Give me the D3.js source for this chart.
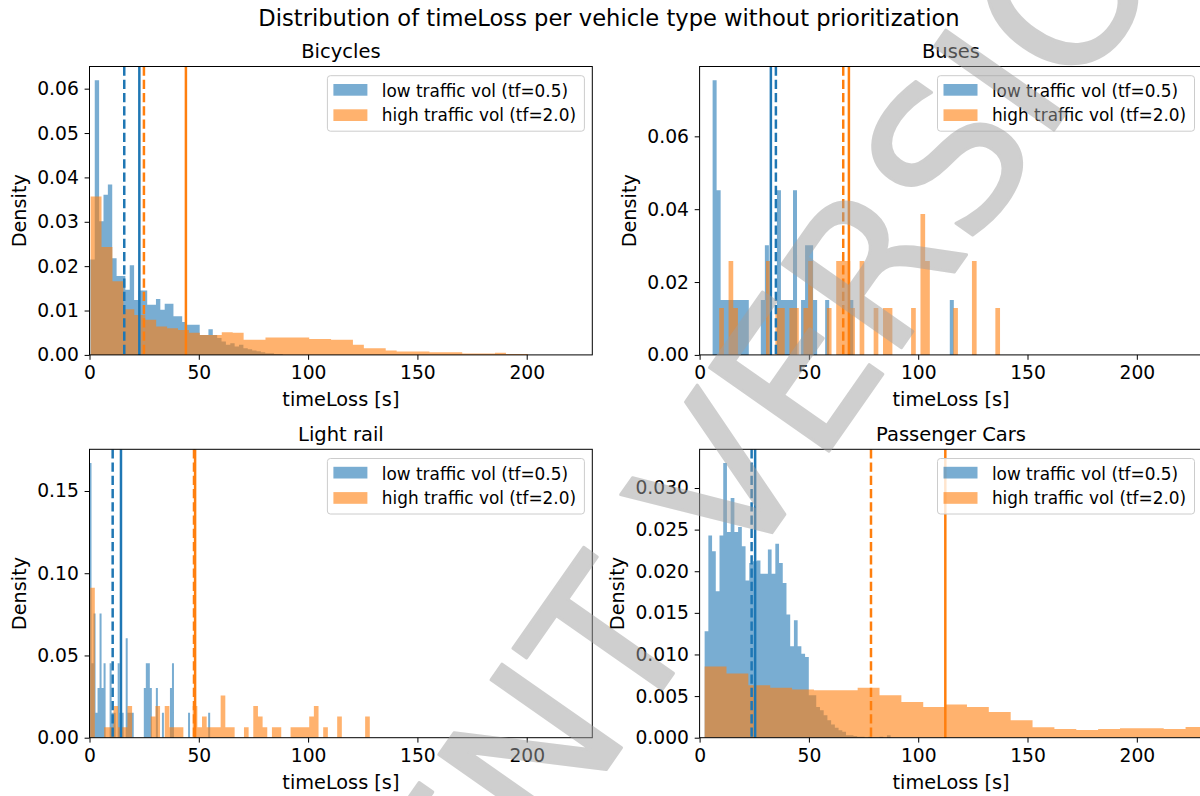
<!DOCTYPE html>
<html lang="en">
<head>
<meta charset="UTF-8">
<title>timeLoss per vehicle type</title>
<script src="https://cdn.jsdelivr.net/npm/d3@7/dist/d3.min.js"></script>
<style>
  html, body { margin: 0; padding: 0; background: #fff; }
  svg { display: block; }
</style>
</head>
<body>
<div id="chart"></div>
<script>
// ---- texts
const figTitle = 'Distribution of timeLoss per vehicle type without prioritization';
const panelTitles = ['Bicycles', 'Buses', 'Light rail', 'Passenger Cars'];
const seriesNames = ['low traffic vol (tf=0.5)', 'high traffic vol (tf=2.0)'];
const xLabel = 'timeLoss [s]';
const yLabel = 'Density';
const watermark = 'STUDENT VERSION';

// ---- ticks
const xTicks = [0, 50, 100, 150, 200];
const yTicksBikes = [0, 0.01, 0.02, 0.03, 0.04, 0.05, 0.06];
const yTicksBuses = [0, 0.02, 0.04, 0.06];
const yTicksRail = [0, 0.05, 0.10, 0.15];
const yTicksCars = [0, 0.005, 0.010, 0.015, 0.020, 0.025, 0.030];

// ---- histograms: bin = [first edge, bin width], values = density per bin
const bikesLowBin = [0.4, 2];
const bikesLow = [0.0215, 0.0619, 0.0301, 0.0361, 0.0384, 0.0218, 0.0178, 0.0178, 0.0147, 0.0202,
  0.0124, 0.0145, 0.0145, 0.0113, 0.0113, 0.0126, 0.0102, 0.0115, 0.0115, 0.0087,
  0.0087, 0.0074, 0.0068, 0.0068, 0.0068, 0.0045, 0.0045, 0.0058, 0.0045, 0.0038,
  0.0030, 0.0023, 0.0026, 0.0019, 0.0023, 0.0015, 0.0013, 0.0010, 0.0008, 0.0006,
  0.0004, 0.0004, 0.0002, 0.0002];
const bikesHighBin = [0.5, 5];
const bikesHigh = [0.0357, 0.0243, 0.0166, 0.0103, 0.0090, 0.0079, 0.0064, 0.0060, 0.0056, 0.0050,
  0.0045, 0.0045, 0.0051, 0.0050, 0.0034, 0.0034, 0.0039, 0.0039, 0.0039, 0.0039,
  0.0036, 0.0036, 0.0034, 0.0034, 0.0023, 0.0015, 0.0015, 0.0010, 0.00075, 0.00075,
  0.00075, 0.0006, 0.0006, 0.0006, 0.0003, 0.0003, 0.0003, 0.0005, 0.0002, 0.0002];

const busesLowBin = [5.95, 1.839];
const busesLow = [0.0754, 0.0452, 0.0151, 0.0151, 0.0151, 0.0151, 0.0151, 0.0151, 0.0151, 0,
  0, 0, 0.0151, 0.0301, 0, 0, 0.0452, 0.0151, 0.0151, 0.0151,
  0.0452, 0, 0.0151, 0.0301, 0.0301, 0.0151, 0, 0, 0.0151, 0,
  0, 0, 0, 0, 0.0151, 0, 0, 0, 0, 0,
  0, 0, 0, 0, 0, 0, 0, 0, 0, 0,
  0, 0, 0, 0, 0, 0, 0, 0, 0, 0.0151];
const busesHighBin = [8.97, 2.141];
const busesHigh = [0.0129, 0, 0.0258, 0.0129, 0, 0, 0, 0, 0, 0,
  0.0258, 0, 0.0129, 0.0129, 0, 0.0129, 0.0129, 0, 0.0129, 0.0258,
  0, 0, 0, 0.0129, 0, 0.0258, 0.0258, 0.0258, 0.0129, 0,
  0.0258, 0, 0, 0.0129, 0, 0.0129, 0.0129, 0, 0, 0,
  0, 0.0129, 0, 0.0387, 0.0258, 0, 0, 0, 0, 0,
  0.0129, 0, 0, 0, 0.0258, 0, 0, 0, 0, 0.0129];

const railLowBin = [0, 0.92];
const railLow = [0.167, 0.0453, 0.0755, 0.0151, 0.0302, 0.0755, 0.0302, 0.0453, 0, 0,
  0.0453, 0.0151, 0.0151, 0, 0.0453, 0.0151, 0.0151, 0, 0.0604, 0.0151,
  0.0151, 0.0151, 0, 0, 0, 0, 0, 0.0302, 0.0453, 0.0453,
  0.0302, 0, 0, 0.0302, 0, 0, 0.0151, 0, 0, 0,
  0.0302, 0.0453, 0, 0, 0, 0, 0, 0, 0, 0.0151,
  0, 0, 0, 0, 0, 0, 0, 0, 0, 0.0151];
const railHighBin = [0.3, 2.132];
const railHigh = [0.0911, 0, 0, 0.0064, 0.0064, 0.0193, 0.0064, 0.0064, 0.0193, 0,
  0, 0, 0, 0.0129, 0.0193, 0, 0.0193, 0.0064, 0.0064, 0.0064,
  0, 0, 0.0193, 0.0064, 0.0129, 0.0064, 0.0064, 0.0064, 0.0257, 0.0064,
  0.0064, 0, 0, 0.0064, 0, 0.0193, 0.0129, 0.0064, 0, 0.0064,
  0.0064, 0, 0, 0.0064, 0.0064, 0.0064, 0.0064, 0.0129, 0.0193, 0,
  0.0064, 0, 0, 0.0129, 0, 0, 0, 0, 0, 0.0129];

const carsLowBin = [2.3, 1.702];
const carsLow = [0.0128, 0.0243, 0.0224, 0.0176, 0.0243, 0.0330, 0.0247, 0.0288, 0.0247, 0.0253,
  0.0230, 0.0189, 0.0210, 0.0212, 0.0213, 0.0197, 0.0197, 0.0226, 0.0197, 0.0233,
  0.0210, 0.0186, 0.0148, 0.0110, 0.0141, 0.0110, 0.0101, 0.0097, 0.0051, 0.0051,
  0.0037, 0.0033, 0.0027, 0.0021, 0.0016, 0.0012, 0.0009, 0.0007, 0.0003, 0.0003,
  0.0002, 0.0001, 0.0001, 0, 0.0001, 0, 0, 0.0001, 0, 0.0003];
const carsHighBin = [2.3, 10];
const carsHigh = [0.00854, 0.0077, 0.0063, 0.0060, 0.0058, 0.0057, 0.0057, 0.0060, 0.0051, 0.0043,
  0.0037, 0.0040, 0.0037, 0.0031, 0.0021, 0.00125, 0.00105, 0.00093, 0.00105, 0.00113,
  0.00113, 0.00105, 0.00129];

// ---- mean (solid) and median (dashed) per series: [mean, median]
const bikesStats = [[22.8, 15.9], [44.1, 24.9]];
const busesStats = [[32.6, 34.9], [68.3, 65.7]];
const railStats = [[14.4, 10.6], [48.3, 47.8]];
const carsStats = [[25.4, 23.8], [112.4, 78.4]];

const colors = ['#1f77b4', '#ff7f0e'];

const panels = [
  { title: panelTitles[0], yTicks: yTicksBikes, fmt: '.2f', stats: bikesStats,
    series: [{ bin: bikesLowBin, h: bikesLow }, { bin: bikesHighBin, h: bikesHigh }] },
  { title: panelTitles[1], yTicks: yTicksBuses, fmt: '.2f', stats: busesStats,
    series: [{ bin: busesLowBin, h: busesLow }, { bin: busesHighBin, h: busesHigh }] },
  { title: panelTitles[2], yTicks: yTicksRail, fmt: '.2f', stats: railStats,
    series: [{ bin: railLowBin, h: railLow }, { bin: railHighBin, h: railHigh }] },
  { title: panelTitles[3], yTicks: yTicksCars, fmt: '.3f', stats: carsStats,
    series: [{ bin: carsLowBin, h: carsLow }, { bin: carsHighBin, h: carsHigh }] }
];

// ---- layout
const width = 1200, height = 796;
const colX = [89.5, 699.6];
const rowY = [66.5, 449.3];
const axW = 502.8, axH = 288.4;
const yLabelOffset = [63.5, 63.5, 63.5, 75.6];
const font = '"DejaVu Sans", sans-serif';

const svg = d3.select('#chart').append('svg')
  .attr('width', width)
  .attr('height', height)
  .style('font-family', font);

svg.append('text')
  .attr('x', 609).attr('y', 26)
  .attr('text-anchor', 'middle')
  .attr('font-size', 22.6)
  .text(figTitle);

panels.forEach((p, i) => {
  const g = svg.append('g')
    .attr('transform', `translate(${colX[i % 2]},${rowY[Math.floor(i / 2)]})`);

  const x = d3.scaleLinear().domain([0, 230]).range([0, axW]);
  const yMax = d3.max(p.series, s => d3.max(s.h)) * 1.05;
  const y = d3.scaleLinear().domain([0, yMax]).range([axH, 0]);

  g.append('clipPath').attr('id', 'clip' + i)
    .append('rect').attr('width', axW).attr('height', axH);
  const plot = g.append('g').attr('clip-path', `url(#clip${i})`);

  // step area per histogram, one path each so bars have no seams
  const area = d3.area()
    .curve(d3.curveStepAfter)
    .x(d => x(d[0]))
    .y0(y(0))
    .y1(d => y(d[1]));

  p.series.forEach((s, k) => {
    const pts = s.h.map((v, j) => [s.bin[0] + j * s.bin[1], v]);
    pts.push([s.bin[0] + s.h.length * s.bin[1], 0]);
    plot.append('path')
      .datum(pts)
      .attr('d', area)
      .attr('fill', colors[k])
      .attr('fill-opacity', 0.6);
  });

  // mean and median lines
  p.stats.forEach((st, k) => {
    plot.append('line')
      .attr('x1', x(st[0])).attr('x2', x(st[0]))
      .attr('y1', 0).attr('y2', axH)
      .attr('stroke', colors[k])
      .attr('stroke-width', 2.5);
    plot.append('line')
      .attr('x1', x(st[1])).attr('x2', x(st[1]))
      .attr('y1', 0).attr('y2', axH)
      .attr('stroke', colors[k])
      .attr('stroke-width', 2.5)
      .attr('stroke-dasharray', '9.25,4');
  });

  // axes
  const gx = g.append('g')
    .attr('transform', `translate(0,${axH})`)
    .call(d3.axisBottom(x).tickValues(xTicks).tickSize(4.9).tickPadding(6.4));
  const gy = g.append('g')
    .call(d3.axisLeft(y).tickValues(p.yTicks).tickFormat(d3.format(p.fmt)).tickSize(4.9).tickPadding(5.8));
  [gx, gy].forEach(a => {
    a.select('.domain').remove();
    a.attr('font-family', font).attr('font-size', 18.7);
    a.selectAll('line').attr('stroke', '#000').attr('stroke-width', 1);
    a.selectAll('text').attr('fill', '#000');
  });

  // spines
  g.append('rect')
    .attr('width', axW).attr('height', axH)
    .attr('fill', 'none')
    .attr('stroke', '#000')
    .attr('stroke-width', 1);

  // titles and labels
  g.append('text')
    .attr('x', axW / 2).attr('y', -8.5)
    .attr('text-anchor', 'middle')
    .attr('font-size', 19.5)
    .text(p.title);
  g.append('text')
    .attr('x', axW / 2).attr('y', axH + 51.5)
    .attr('text-anchor', 'middle')
    .attr('font-size', 19.3)
    .text(xLabel);
  g.append('text')
    .attr('transform', `translate(${-yLabelOffset[i]},${axH / 2}) rotate(-90)`)
    .attr('text-anchor', 'middle')
    .attr('font-size', 19.3)
    .text(yLabel);

  // legend
  const lg = g.append('g').attr('transform', `translate(${axW - 7.9 - 257},9.2)`);
  lg.append('rect')
    .attr('width', 257).attr('height', 55.5).attr('rx', 3)
    .attr('fill', '#fff').attr('fill-opacity', 0.8)
    .attr('stroke', '#cccccc').attr('stroke-width', 1);
  const items = lg.selectAll('g.item').data(seriesNames).enter().append('g').attr('class', 'item');
  items.append('rect')
    .attr('x', 6).attr('y', (d, k) => 8.3 + 25.3 * k)
    .attr('width', 34).attr('height', 11.7)
    .attr('fill', (d, k) => colors[k]).attr('fill-opacity', 0.6);
  items.append('text')
    .attr('x', 54.4).attr('y', (d, k) => 21.1 + 24.7 * k)
    .attr('font-size', 16.9)
    .text(d => d);
});

// watermark on top of everything (group opacity so fill and stroke blend once)
svg.append('g')
  .attr('opacity', 0.5)
  .append('text')
  .attr('transform', 'translate(706,627) rotate(-55)')
  .attr('text-anchor', 'middle')
  .attr('font-size', 200)
  .attr('fill', '#a0a0a0')
  .attr('stroke', '#a0a0a0')
  .attr('stroke-width', 3)
  .attr('stroke-linejoin', 'round')
  .text(watermark);
</script>
</body>
</html>
